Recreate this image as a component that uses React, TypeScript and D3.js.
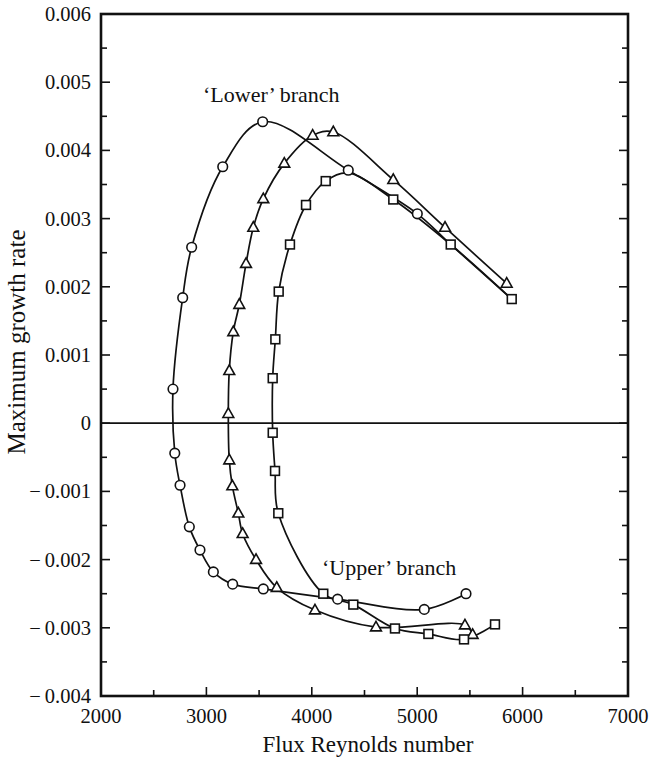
import React from "react";
import * as d3 from "d3";

// Maximum growth rate against flux Reynolds number, three families of curves.
// Each series is listed along its curve, from the 'upper' branch end round to the 'lower' branch end.
const circleRe = [5463, 5067, 4245, 3540, 3249, 3066, 2939, 2838, 2750, 2700, 2683, 2775, 2860, 3155, 3534, 4346, 5001];
const circleRate = [-0.0025, -0.00273, -0.00258, -0.00243, -0.00236, -0.00218, -0.00186, -0.00152, -0.00091, -0.00044, 0.0005, 0.00184, 0.00258, 0.00376, 0.00442, 0.00371, 0.00307];
// beyond its last marker the circle curve runs on along the square curve
const circleTailRe = [5318, 5897];
const circleTailRate = [0.00262, 0.00182];

const triangleRe = [5526, 5453, 4609, 4030, 3667, 3471, 3344, 3303, 3246, 3217, 3208, 3217, 3255, 3312, 3376, 3445, 3540, 3739, 4008, 4204, 4773, 5264, 5849];
const triangleRate = [-0.0031, -0.00296, -0.00299, -0.00274, -0.00241, -0.002, -0.00162, -0.00132, -0.00092, -0.00054, 0.00014, 0.00077, 0.00134, 0.00174, 0.00234, 0.00287, 0.00329, 0.00381, 0.00422, 0.00427, 0.00357, 0.00287, 0.00205];

const squareRe = [5738, 5444, 5106, 4789, 4394, 4109, 3682, 3651, 3629, 3629, 3654, 3686, 3793, 3945, 4132, 4773, 5318, 5897];
const squareRate = [-0.00295, -0.00317, -0.00309, -0.00301, -0.00266, -0.0025, -0.00132, -0.0007, -0.00014, 0.00066, 0.00123, 0.00193, 0.00262, 0.0032, 0.00355, 0.00328, 0.00262, 0.00182];
// the square curve touches the circle curve at its crest (no marker there)
const squareCrestRe = 4340;
const squareCrestRate = 0.00367;
const squareCrestAfter = 14;

const xTicks = [2000, 3000, 4000, 5000, 6000, 7000];
const xTickLabels = ["2000", "3000", "4000", "5000", "6000", "7000"];
const yTicks = [0.006, 0.005, 0.004, 0.003, 0.002, 0.001, 0, -0.001, -0.002, -0.003, -0.004];
const yTickLabels = ["0.006", "0.005", "0.004", "0.003", "0.002", "0.001", "0", "\u2212\u20090.001", "\u2212\u20090.002", "\u2212\u20090.003", "\u2212\u20090.004"];

const W = 650;
const H = 757;
const left = 101;
const right = 628;
const top = 14;
const bottom = 696;
const FONT = "'Liberation Serif', 'Times New Roman', serif";

const x = d3.scaleLinear().domain([2000, 7000]).range([left, right]);
const y = d3.scaleLinear().domain([-0.004, 0.006]).range([bottom, top]);

type Pt = [number, number];
const zip = (a: number[], b: number[]): Pt[] => a.map((v, i) => [v, b[i]]);

const line = d3
  .line<Pt>()
  .x((d) => x(d[0]))
  .y((d) => y(d[1]))
  .curve(d3.curveCatmullRom.alpha(0.5));

const circles = zip(circleRe, circleRate);
const triangles = zip(triangleRe, triangleRate);
const squares = zip(squareRe, squareRate);
const circlePath = [...circles, ...zip(circleTailRe, circleTailRate)];
const squarePath: Pt[] = [
  ...squares.slice(0, squareCrestAfter + 1),
  [squareCrestRe, squareCrestRate],
  ...squares.slice(squareCrestAfter + 1),
];

const minorX = d3.range(2000, 7001, 500);
const minorY = d3.range(-0.004, 0.00601, 0.0005);

export default function App() {
  const stroke = "#111";
  return (
    <svg
      width={W}
      height={H}
      style={{ position: "absolute", left: 0, top: 0, background: "#fff" }}
      fontFamily={FONT}
    >
      <rect x={0} y={0} width={W} height={H} fill="#fff" />

      {/* zero line */}
      <line x1={left} x2={right} y1={y(0)} y2={y(0)} stroke={stroke} strokeWidth={1.7} />

      {/* curves */}
      <g fill="none" stroke={stroke} strokeWidth={1.7}>
        <path d={line(circlePath) ?? ""} />
        <path d={line(triangles) ?? ""} />
        <path d={line(squarePath) ?? ""} />
      </g>

      {/* markers */}
      <g fill="#fff" stroke={stroke} strokeWidth={1.6}>
        {circles.map((d, i) => (
          <circle key={"c" + i} cx={x(d[0])} cy={y(d[1])} r={4.8} />
        ))}
        {triangles.map((d, i) => {
          const cx = x(d[0]);
          const cy = y(d[1]);
          return (
            <path
              key={"t" + i}
              d={`M${cx},${cy - 5.8} L${cx + 5.4},${cy + 3.8} L${cx - 5.4},${cy + 3.8} Z`}
            />
          );
        })}
        {squares.map((d, i) => (
          <rect key={"s" + i} x={x(d[0]) - 4.4} y={y(d[1]) - 4.4} width={8.8} height={8.8} />
        ))}
      </g>

      {/* ticks, drawn inward on the bottom, left and right sides */}
      <g stroke={stroke} strokeWidth={1.6}>
        {minorX.map((v, i) => {
          const major = Math.abs(v % 1000) < 1e-6;
          const len = major ? 9 : 6;
          return <line key={"xt" + i} x1={x(v)} x2={x(v)} y1={bottom} y2={bottom - len} />;
        })}
        {minorY.map((v, i) => {
          const major = i % 2 === 0;
          const len = major ? 9 : 6;
          return (
            <g key={"yt" + i}>
              <line x1={left} x2={left + len} y1={y(v)} y2={y(v)} />
              <line x1={right} x2={right - len} y1={y(v)} y2={y(v)} />
            </g>
          );
        })}
      </g>

      {/* frame */}
      <rect
        x={left}
        y={top}
        width={right - left}
        height={bottom - top}
        fill="none"
        stroke={stroke}
        strokeWidth={2.6}
      />

      {/* tick labels */}
      <g fill={stroke} fontSize={20.5}>
        {yTicks.map((v, i) => (
          <text key={"yl" + i} x={left - 10} y={y(v)} dy="0.34em" textAnchor="end">
            {yTickLabels[i]}
          </text>
        ))}
        {xTicks.map((v, i) => (
          <text key={"xl" + i} x={x(v)} y={bottom + 27} textAnchor="middle">
            {xTickLabels[i]}
          </text>
        ))}
      </g>

      {/* axis titles */}
      <text x={368} y={752} textAnchor="middle" fontSize={23} fill={stroke}>
        Flux Reynolds number
      </text>
      <text
        transform={`translate(25, 342) rotate(-90)`}
        textAnchor="middle"
        fontSize={25}
        fill={stroke}
      >
        Maximum growth rate
      </text>

      {/* branch annotations */}
      <text x={203} y={102} fontSize={22} fill={stroke}>
        {"\u2018Lower\u2019 branch"}
      </text>
      <text x={322} y={575} fontSize={22} fill={stroke}>
        {"\u2018Upper\u2019 branch"}
      </text>
    </svg>
  );
}
